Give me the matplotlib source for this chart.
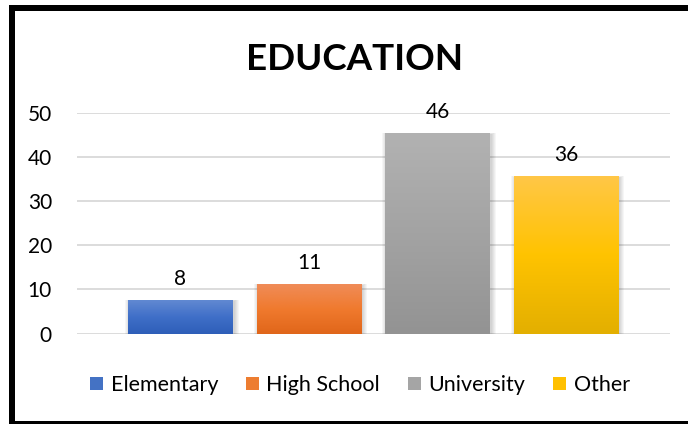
import numpy as np
import matplotlib
matplotlib.use("Agg")
import matplotlib.pyplot as plt
from matplotlib.patches import Rectangle, Patch
from matplotlib.colors import LinearSegmentedColormap

plt.rcParams['font.family'] = ['Lato', 'DejaVu Sans']

categories = ["Elementary", "High School", "University", "Other"]
values = [7.6, 11.2, 45.5, 35.7]
yticks = [0, 10, 20, 30, 40, 50]
title = "EDUCATION"

grad_colors = [
    ["#6189D2", "#3F6FC8", "#2E5EB8"],
    ["#F08C58", "#F07A2E", "#E0661A"],
    ["#B2B2B2", "#A3A3A3", "#939393"],
    ["#FFC747", "#FFC300", "#E3AF00"],
]
legend_colors = ["#4472C4", "#ED7D31", "#A5A5A5", "#FFC000"]

W, H = 689, 424
fig = plt.figure(figsize=(W / 100, H / 100), dpi=100)
fig.patch.set_facecolor("white")

ax_l, ax_r = 77 / W, 670 / W
ax_b, ax_t = 1 - 333.5 / H, 1 - 113.3 / H
ax = fig.add_axes([ax_l, ax_b, ax_r - ax_l, ax_t - ax_b])

x = np.arange(len(categories))
width = 0.813
xlim = (-0.805, 3.809)

ax.set_ylim(0, 50)
ax.set_xlim(*xlim)
ax.set_yticks(yticks)
ax.set_yticklabels([str(t) for t in yticks], fontsize=15, color="#000000")
ax.set_xticks([])
ax.tick_params(axis="y", length=0, pad=18)
for s in ax.spines.values():
    s.set_visible(False)
ax.yaxis.grid(True, color="#D9D9D9", linewidth=1.3, zorder=0)
ax.set_axisbelow(True)

px_x = 1 / 128.5
px_y = 50 / 220.2

# soft shadows
for xi, v in zip(x, values):
    for k in range(1, 6):
        ax.add_patch(Rectangle((xi - width / 2 - (k - 2) * px_x, 0 - k * px_y * 0.5),
                               width + (2 * k - 1) * px_x, v + (k - 1) * px_y * 0.6,
                               facecolor="black", alpha=0.035, edgecolor="none", zorder=1.5))

bars = ax.bar(x, values, width, color=legend_colors, zorder=2, edgecolor="none")
for bar, cols in zip(bars, grad_colors):
    cmap = LinearSegmentedColormap.from_list("g", cols[::-1])
    grad = np.linspace(1, 0, 256).reshape(-1, 1)
    bx, by = bar.get_x(), bar.get_y()
    bw, bh = bar.get_width(), bar.get_height()
    im = ax.imshow(grad, cmap=cmap, extent=(bx, bx + bw, by, by + bh),
                   aspect="auto", zorder=2.5, interpolation="bicubic", vmin=0, vmax=1)
    im.set_clip_path(bar)

ax.set_xlim(*xlim)
ax.set_ylim(0, 50)

for xi, v in zip(x, values):
    ax.annotate("%.0f" % v, (xi, v), xytext=(0, 8), textcoords="offset points",
                ha="center", va="bottom", fontsize=15, color="#000000",
                annotation_clip=False)

fig.text(355 / W, 1 - 70 / H, title, ha="center", va="baseline",
         fontsize=26.5, fontweight="bold", color="#000000")

handles = [Patch(facecolor=c, edgecolor="none") for c in legend_colors]
leg = fig.legend(handles, categories, loc="center", ncol=4,
                 bbox_to_anchor=(360 / W, 1 - 385 / H), frameon=False,
                 fontsize=15.5, handlelength=0.6, handleheight=0.6,
                 handletextpad=0.35, columnspacing=1.3)

# outer black frame as filled strips (right side is cut off)
def strip(x0, y0, x1, y1):
    fig.add_artist(Rectangle((x0 / W, 1 - y1 / H), (x1 - x0) / W, (y1 - y0) / H,
                             transform=fig.transFigure, facecolor="black",
                             edgecolor="none", linewidth=0))

strip(9, 5, 15, 424)      # left
strip(9, 5, 688, 11)      # top
strip(9, 421, 688, 424)   # bottom

fig.savefig("out.png", dpi=100, facecolor="white")
